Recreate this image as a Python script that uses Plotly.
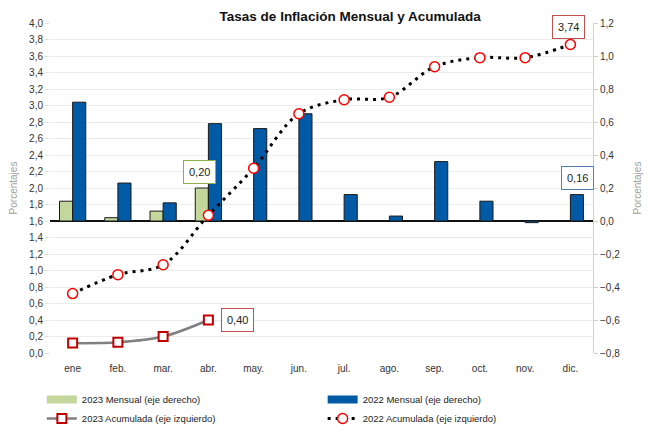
import plotly.graph_objects as go

months = ["ene", "feb.", "mar.", "abr.", "may.", "jun.", "jul.", "ago.", "sep.", "oct.", "nov.", "dic."]
mens_2023 = [0.12, 0.02, 0.06, 0.20]
mens_2022 = [0.72, 0.23, 0.11, 0.59, 0.56, 0.65, 0.16, 0.03, 0.36, 0.12, -0.01, 0.16]
acum_2023 = [0.12, 0.13, 0.20, 0.40]
acum_2022 = [0.72, 0.95, 1.07, 1.67, 2.24, 2.90, 3.07, 3.10, 3.47, 3.58, 3.58, 3.74]

FONT = "Liberation Sans, Arial, sans-serif"
C23 = "#c3d69b"
C22 = "#005aa5"

fig = go.Figure()
fig.add_trace(go.Bar(x=months[:4], y=mens_2023, name="2023 Mensual (eje derecho)",
                     marker=dict(color=C23, line=dict(color="#1a1a1a", width=1)),
                     yaxis="y", showlegend=False))
fig.add_trace(go.Bar(x=months, y=mens_2022, name="2022 Mensual (eje derecho)",
                     marker=dict(color=C22, line=dict(color="#1a1a1a", width=1)),
                     yaxis="y", showlegend=False))
# legend entries for the bars (wide rectangles as in the reference)
fig.add_trace(go.Scatter(x=[None], y=[None], name="2023 Mensual (eje derecho)", mode="lines",
                         line=dict(color=C23, width=8), yaxis="y"))
fig.add_trace(go.Scatter(x=[None], y=[None], name="2022 Mensual (eje derecho)", mode="lines",
                         line=dict(color=C22, width=8), yaxis="y"))
fig.add_trace(go.Scatter(x=months[:4], y=acum_2023, name="2023 Acumulada (eje izquierdo)",
                         mode="lines+markers", line=dict(color="#808080", width=2.5, shape="spline"),
                         marker=dict(symbol="square", size=9, color="white",
                                     line=dict(color="#c00000", width=2)),
                         yaxis="y2"))
fig.add_trace(go.Scatter(x=months, y=acum_2022, name="2022 Acumulada (eje izquierdo)",
                         mode="lines+markers",
                         line=dict(color="black", width=3, dash="3px,5px", shape="spline"),
                         marker=dict(symbol="circle", size=10, color="white",
                                     line=dict(color="#ff0000", width=1.5)),
                         yaxis="y2"))

ann_font = dict(family=FONT, size=11, color="#222")
annotations = [
    dict(x="abr.", y=0.30, xref="x", yref="y", text="0,20", showarrow=False, xshift=-9,
         bordercolor="#8db04a", borderwidth=1, borderpad=5, bgcolor="white", font=ann_font),
    dict(x="abr.", y=0.40, xref="x", yref="y2", text="0,40", showarrow=False, xshift=29,
         bordercolor="#c0504d", borderwidth=1, borderpad=5, bgcolor="white", font=ann_font),
    dict(x="dic.", y=3.95, xref="x", yref="y2", text="3,74", showarrow=False, xshift=-2,
         bordercolor="#c0504d", borderwidth=1, borderpad=5, bgcolor="white", font=ann_font),
    dict(x="dic.", y=0.26, xref="x", yref="y", text="0,16", showarrow=False, xshift=7,
         bordercolor="#4f81bd", borderwidth=1, borderpad=5, bgcolor="white", font=ann_font),
]

fig.update_layout(
    width=648, height=419,
    margin=dict(l=42, r=63, t=15, b=74, autoexpand=False),
    paper_bgcolor="white", plot_bgcolor="white",
    separators=",.",
    font=dict(family=FONT, size=10, color="#333"),
    title=dict(text="<b>Tasas de Inflación Mensual y Acumulada</b>", x=0.528, xanchor="center",
               y=0.981, yanchor="middle", font=dict(family=FONT, size=13.5, color="#111")),
    barmode="group", bargap=0.42, bargroupgap=0,
    xaxis=dict(type="category", categoryorder="array", categoryarray=months,
               range=[-0.5, 11.5], showgrid=False, ticks="outside", ticklen=6,
               tickcolor="rgba(0,0,0,0)", showline=False, automargin=False,
               tickfont=dict(size=10, color="#333")),
    yaxis=dict(side="right", range=[-0.8, 1.2], dtick=0.2, tickformat=".1f",
               showgrid=False, zeroline=True, zerolinecolor="#111", zerolinewidth=1.5,
               showline=True, linecolor="#d0d0d0", linewidth=1, ticks="outside",
               ticklen=4, tickcolor="#d0d0d0", automargin=False,
               title=dict(text="Porcentajes", font=dict(size=10, color="#a0a0a0"), standoff=14),
               tickfont=dict(size=10, color="#333")),
    yaxis2=dict(side="left", overlaying="y", range=[0, 4.0], dtick=0.2, tickformat=".1f",
                showgrid=True, gridcolor="#ececec", gridwidth=1, zeroline=False,
                showline=False, ticks="outside", ticklen=4, tickcolor="#e0e0e0",
                automargin=False,
                title=dict(text="Porcentajes", font=dict(size=10, color="#a0a0a0"), standoff=22),
                tickfont=dict(size=10, color="#333")),
    legend=dict(orientation="h", x=-0.015, xanchor="left", y=-0.097, yanchor="top",
                entrywidth=0.48, entrywidthmode="fraction", tracegroupgap=0,
                font=dict(family=FONT, size=9.5, color="#222"), traceorder="normal"),
    annotations=annotations,
)

fig.write_html("out.html")
